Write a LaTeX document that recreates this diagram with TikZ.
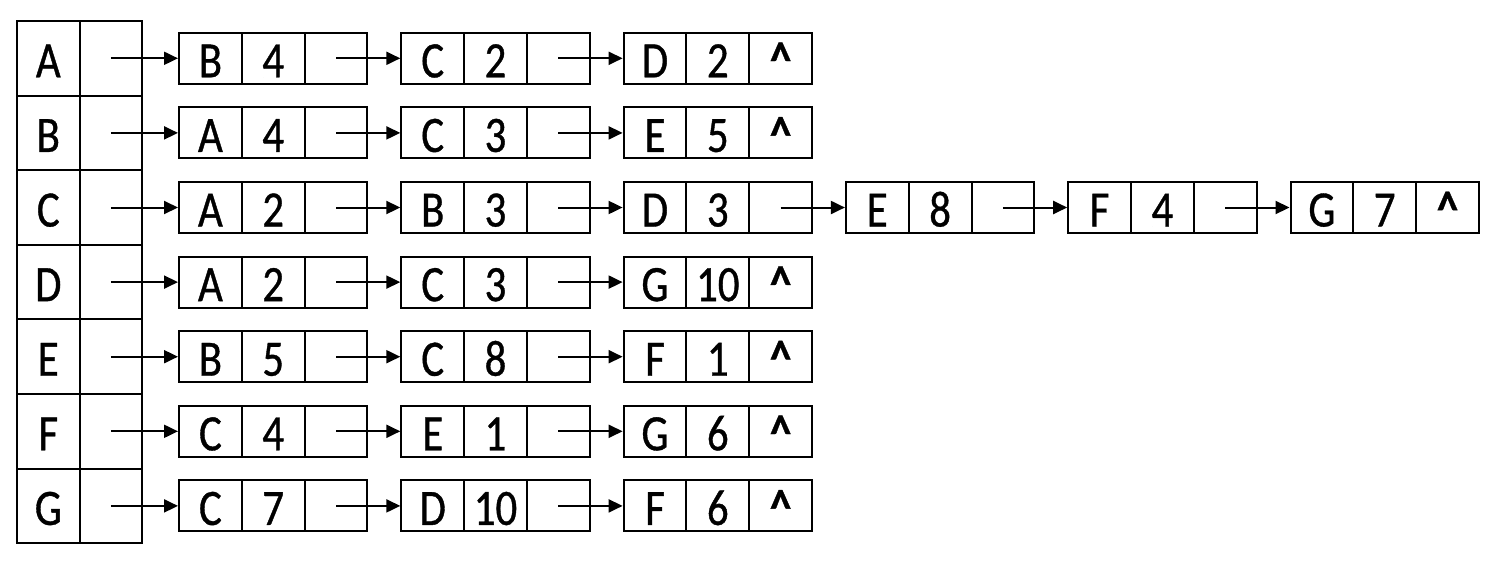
\documentclass[tikz,border=0pt]{standalone}
\usepackage{fontspec}
\setmainfont{Carlito}[FakeStretch=0.84,FakeBold=0.7]
\usetikzlibrary{arrows.meta}
\begin{document}
\begin{tikzpicture}[x=0.5pt,y=-0.5pt,
  txt/.style={font=\fontsize{25.5}{30}\selectfont, text height=19pt, text depth=0pt},
  cell/.style={draw, line width=1pt, minimum width=31.4pt, minimum height=25.5pt, inner sep=0pt, txt},
  hcell/.style={draw, line width=1pt, minimum width=31.25pt, minimum height=37.3pt, inner sep=0pt, txt},
  link/.style={line width=1pt, -{Triangle[length=7pt,width=6.5pt]}}]
\useasboundingbox (0,0) rectangle (1502,568);
% head table
\foreach \r/\l in {0/A,1/B,2/C,3/D,4/E,5/F,6/G}{
  \node[hcell] (h-\r-0) at (48.3, {58.3+74.6*\r}) {\l};
  \node[hcell] (h-\r-1) at (110.8, {58.3+74.6*\r}) {};
}
% list nodes: row/index/vertex/weight/last
\foreach \r/\k/\a/\b/\e in {
  0/0/B/4/0, 0/1/C/2/0, 0/2/D/2/1,
  1/0/A/4/0, 1/1/C/3/0, 1/2/E/5/1,
  2/0/A/2/0, 2/1/B/3/0, 2/2/D/3/0, 2/3/E/8/0, 2/4/F/4/0, 2/5/G/7/1,
  3/0/A/2/0, 3/1/C/3/0, 3/2/G/10/1,
  4/0/B/5/0, 4/1/C/8/0, 4/2/F/1/1,
  5/0/C/4/0, 5/1/E/1/0, 5/2/G/6/1,
  6/0/C/7/0, 6/1/D/10/0, 6/2/F/6/1}{
  \node[cell] (n-\r-\k-0) at ({179+31.4+222.3*\k}, {58.3+74.6*\r}) {\a};
  \node[cell] (n-\r-\k-1) at ({179+94.2+222.3*\k}, {58.3+74.6*\r}) {\b};
  \node[cell] (n-\r-\k-2) at ({179+157+222.3*\k}, {58.3+74.6*\r}) {\ifnum\e=1 \textbf{\textasciicircum}\fi};
  \ifnum\k=0
    \draw[link] (h-\r-1.center) -- (n-\r-\k-0.west);
  \else
    \pgfmathtruncatemacro\p{\k-1}
    \draw[link] (n-\r-\p-2.center) -- (n-\r-\k-0.west);
  \fi
}
\end{tikzpicture}
\end{document}
